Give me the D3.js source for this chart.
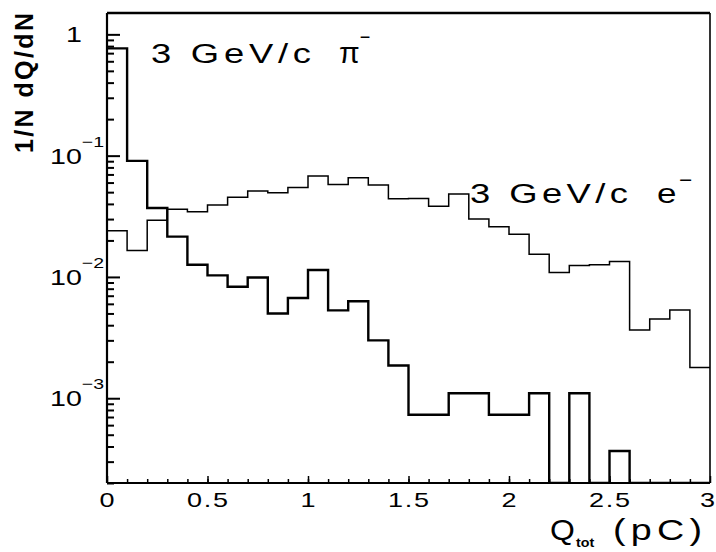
<!DOCTYPE html>
<html><head><meta charset="utf-8">
<script src="https://cdn.jsdelivr.net/npm/d3@7"></script>
<style>
html,body{margin:0;padding:0;background:#fff;}
svg{display:block;}
text{font-family:"Liberation Sans",Arial,sans-serif;fill:#000;}
</style></head>
<body><svg id="chart" width="716" height="552"></svg>
<script>
// bin lower edges (Q_tot, pC), bin width 0.1
const binStarts = [0,0.1,0.2,0.3,0.4,0.5,0.6,0.7,0.8,0.9,1.0,1.1,1.2,1.3,1.4,1.5,1.6,1.7,1.8,1.9,2.0,2.1,2.2,2.3,2.4,2.5,2.6,2.7,2.8,2.9];
const binWidth = 0.1;
// 3 GeV/c pi- (thick line)
const pionValues = [0.767,0.0906,0.037,0.0215,0.0126,0.0103,0.0083,0.0099,0.0050,0.0067,
  0.0114,0.0053,0.0063,0.0030,0.00186,0.00073,0.00073,0.0011,0.0011,0.00073,
  0.00073,0.0011,0,0.0011,0,0.000367,0,0,0,0];
// 3 GeV/c e- (thin line)
const electronValues = [0.0240,0.0165,0.0294,0.0361,0.0345,0.0392,0.0453,0.0510,0.0494,0.0547,
  0.0678,0.0579,0.0657,0.0572,0.0441,0.0444,0.0382,0.0482,0.0300,0.0259,
  0.0225,0.0154,0.0109,0.0124,0.0126,0.0134,0.00366,0.00449,0.00535,0.00179];
const xTickValues = [0,0.5,1,1.5,2,2.5,3];
const xTickLabels = ["0","0.5","1","1.5","2","2.5","3"];
const yMajorValues = [1,0.1,0.01,0.001];
const yMajorExponents = ["", "−1","−2","−3"];

const svg = d3.select("#chart");
const L=107, R=710, T=13, B=483;
const x = d3.scaleLinear().domain([0,3]).range([L,R]);
const y = d3.scaleLog().domain([2e-4,1.5]).range([B,T]).clamp(true);

function stepPoints(vals){
  const pts=[];
  vals.forEach((v,i)=>{
    const vv = v>0 ? v : 2e-4;
    pts.push([binStarts[i],vv]);
    pts.push([binStarts[i]+binWidth,vv]);
  });
  return pts;
}
const line = d3.line().x(d=>x(d[0])).y(d=>y(d[1]));

svg.append("clipPath").attr("id","clip").append("rect")
  .attr("x",L).attr("y",T).attr("width",R-L).attr("height",B-T);

const g = svg.append("g").attr("clip-path","url(#clip)");
g.append("path").attr("d",line(stepPoints(electronValues)))
  .attr("fill","none").attr("stroke","#000").attr("stroke-width",1.5);
g.append("path").attr("d",line(stepPoints(pionValues)))
  .attr("fill","none").attr("stroke","#000").attr("stroke-width",2.4);

// y minor ticks
const yMinor=[];
for(let e=-4;e<=0;e++) for(let k=2;k<=9;k++){const v=k*Math.pow(10,e); if(v>=2e-4 && v<=1.5) yMinor.push(v);}
svg.append("g").attr("transform",`translate(${L},0)`)
  .call(d3.axisRight(y).tickValues(yMinor).tickSize(7).tickFormat(""))
  .call(s=>s.select(".domain").remove())
  .call(s=>s.selectAll("line").attr("stroke-width",2));
svg.append("g").attr("transform",`translate(${L},0)`)
  .call(d3.axisRight(y).tickValues(yMajorValues).tickSize(13).tickFormat(""))
  .call(s=>s.select(".domain").remove())
  .call(s=>s.selectAll("line").attr("stroke-width",2));

// x ticks
const xMinor=binStarts.slice(1);
svg.append("g").attr("transform",`translate(0,${B})`)
  .call(d3.axisTop(x).tickValues(xMinor).tickSize(4).tickFormat(""))
  .call(s=>s.select(".domain").remove())
  .call(s=>s.selectAll("line").attr("stroke-width",1.5));
svg.append("g").attr("transform",`translate(0,${B})`)
  .call(d3.axisTop(x).tickValues(xTickValues).tickSize(7).tickFormat(""))
  .call(s=>s.select(".domain").remove())
  .call(s=>s.selectAll("line").attr("stroke-width",1.5));

// frame
svg.append("line").attr("x1",L).attr("x2",R).attr("y1",T).attr("y2",T).attr("stroke","#000").attr("stroke-width",2.5);
svg.append("line").attr("x1",L).attr("x2",R).attr("y1",B).attr("y2",B).attr("stroke","#000").attr("stroke-width",2);
svg.append("line").attr("x1",L).attr("x2",L).attr("y1",T).attr("y2",B).attr("stroke","#000").attr("stroke-width",2.2);
svg.append("line").attr("x1",R).attr("x2",R).attr("y1",T).attr("y2",B).attr("stroke","#000").attr("stroke-width",1.6);

// helper: horizontally stretched text
function stext(px, py, str, size, sx, anchor, len){
  const t = svg.append("text")
    .attr("transform",`translate(${px},${py}) scale(${sx},1)`)
    .attr("x",0).attr("y",0).attr("font-size",size)
    .attr("text-anchor",anchor||"start").text(str);
  if(len) t.attr("textLength",len/sx).attr("lengthAdjust","spacing");
  return t;
}

// y tick labels
yMajorValues.forEach((v,i)=>{
  const yy=y(v);
  if(i===0){
    stext(82, yy+8, "1", 22, 1.3, "end");
  } else {
    const t = stext(50, yy+8, "10", 22, 1.3, "start");
    t.append("tspan").attr("dy",-17).attr("font-size",15).text(yMajorExponents[i]);
  }
});

// x tick labels
xTickValues.forEach((v,i)=>{
  const lab = xTickLabels[i];
  if(i===xTickValues.length-1){
    stext(715, 507, lab, 20, 1.35, "end");
  } else {
    stext(x(v), 507, lab, 20, 1.35, "middle", lab.length>1 ? 41 : null);
  }
});

// axis titles
svg.append("text").attr("transform","translate(33,153) rotate(-90)")
  .attr("font-size",25).attr("font-weight","bold").attr("textLength",140).attr("lengthAdjust","spacing")
  .text("1/N  dQ/dN");
const q = stext(550, 540, "Q", 29, 1.1, "start");
q.append("tspan").attr("dy",7).attr("font-size",13).attr("font-weight","bold")
  .attr("dx",1).text("tot");
stext(613, 540, "(pC)", 29, 1.3, "start", 89);

// series labels
stext(151, 63, "3 GeV/c", 28, 1.3, "start", 160);
const pi = stext(339, 63, "π", 30, 1.0, "start");
pi.append("tspan").attr("dy",-20).attr("dx",0).attr("font-size",18).text("−");
stext(470, 203, "3 GeV/c", 28, 1.3, "start", 158);
const el = stext(657, 203, "e", 28, 1.25, "start");
el.append("tspan").attr("dy",-17).attr("dx",2).attr("font-size",18).text("−");
</script></body></html>
